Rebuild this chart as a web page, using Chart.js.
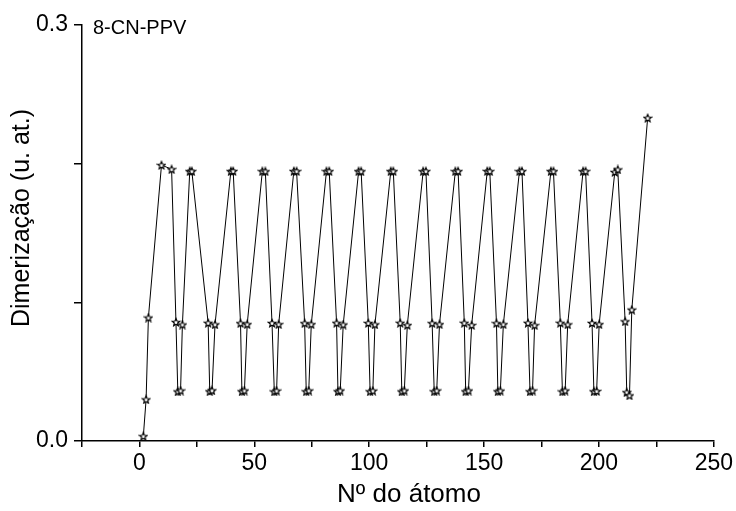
<!DOCTYPE html>
<html>
<head>
<meta charset="utf-8">
<script src="https://cdn.jsdelivr.net/npm/chart.js@4.4.0/dist/chart.umd.min.js"></script>
<style>
  html, body { margin: 0; padding: 0; background: #fff; }
</style>
</head>
<body>
<canvas id="dimerChart" width="736" height="511"></canvas>
<script>
// values
const seriesName = '8-CN-PPV';
const atomNumber = [
  1.7, 2.9, 3.9, 9.6, 14.0,
  15.9, 16.7, 17.9, 18.7, 21.9, 22.8,
  29.9, 30.6, 31.6, 32.9, 39.8, 40.8,
  44.0, 44.6, 45.7, 46.9, 53.5, 54.8,
  57.7, 58.7, 59.7, 60.6, 67.2, 68.4,
  71.9, 72.6, 73.7, 74.8, 81.4, 82.6,
  85.8, 86.4, 87.4, 88.7, 95.4, 96.5,
  99.6, 100.4, 101.6, 102.5, 109.4, 110.5,
  113.5, 114.2, 115.3, 116.6, 123.5, 124.7,
  127.4, 128.3, 129.4, 130.6, 137.5, 138.7,
  141.4, 142.0, 143.2, 144.6, 151.4, 152.5,
  155.4, 156.0, 157.1, 158.4, 165.4, 166.5,
  169.1, 170.0, 171.1, 172.0, 179.1, 180.2,
  183.2, 184.1, 185.3, 186.4, 193.1, 194.2,
  197.0, 197.8, 199.0, 200.1, 206.9, 208.2,
  211.4, 212.1, 213.3, 214.3, 221.2
];
const dimerization = [
  0.0035, 0.030, 0.089, 0.199, 0.196,
  0.0858, 0.0357, 0.0364, 0.0840, 0.1946, 0.1946,
  0.0852, 0.0358, 0.0365, 0.0841, 0.1946, 0.1947,
  0.0850, 0.0358, 0.0364, 0.0842, 0.1946, 0.1945,
  0.0851, 0.0357, 0.0363, 0.0842, 0.1947, 0.1946,
  0.0850, 0.0358, 0.0364, 0.0842, 0.1946, 0.1946,
  0.0852, 0.0358, 0.0364, 0.0840, 0.1946, 0.1945,
  0.0851, 0.0358, 0.0363, 0.0841, 0.1946, 0.1946,
  0.0852, 0.0357, 0.0364, 0.0836, 0.1946, 0.1946,
  0.0850, 0.0358, 0.0364, 0.0842, 0.1946, 0.1946,
  0.0852, 0.0358, 0.0364, 0.0836, 0.1947, 0.1946,
  0.0850, 0.0358, 0.0363, 0.0842, 0.1946, 0.1946,
  0.0852, 0.0358, 0.0364, 0.0835, 0.1946, 0.1946,
  0.0852, 0.0357, 0.0364, 0.0841, 0.1946, 0.1946,
  0.0851, 0.0358, 0.0360, 0.0842, 0.1940, 0.1958,
  0.0863, 0.0352, 0.0329, 0.0947, 0.2330
];
const xTickLabels = [0, 50, 100, 150, 200, 250];
const yTickLabels = [0.0, 0.3];
const xTitle = 'Nº do átomo';
const yTitle = 'Dimerização (u. at.)';

const fontFamily = '"Liberation Sans", Arial, Helvetica, sans-serif';

function makeStar(size) {
  const c = document.createElement('canvas');
  c.width = size;
  c.height = size;
  const g = c.getContext('2d');
  const cx = size / 2, cy = size / 2 + 0.5;
  const R = size / 2 - 1, r = R * 0.45;
  g.beginPath();
  for (let i = 0; i < 10; i++) {
    const rad = i % 2 ? r : R;
    const a = -Math.PI / 2 + i * Math.PI / 5;
    g.lineTo(cx + rad * Math.cos(a), cy + rad * Math.sin(a));
  }
  g.closePath();
  g.fillStyle = '#fff';
  g.fill();
  g.strokeStyle = '#000';
  g.lineWidth = 1.2;
  g.stroke();
  return c;
}

// series name inside the plot and the two axis titles, placed like the original
const textLabels = {
  id: 'textLabels',
  afterDraw(chart) {
    const { ctx, chartArea } = chart;
    ctx.save();
    ctx.fillStyle = '#000';
    ctx.textBaseline = 'middle';

    ctx.font = '20px ' + fontFamily;
    ctx.textAlign = 'left';
    ctx.fillText(seriesName, chartArea.left + 11, chartArea.top + 3);

    ctx.font = '26px ' + fontFamily;
    ctx.textAlign = 'center';
    ctx.fillText(xTitle, chartArea.left + 327, 495);

    ctx.translate(22, chartArea.top + 193);
    ctx.rotate(-Math.PI / 2);
    ctx.font = '25px ' + fontFamily;
    ctx.fillText(yTitle, 0, 0);
    ctx.restore();
  }
};

const ctx = document.getElementById('dimerChart').getContext('2d');

new Chart(ctx, {
  type: 'scatter',
  data: {
    datasets: [{
      label: seriesName,
      data: atomNumber.map((x, i) => ({ x: x, y: dimerization[i] })),
      showLine: true,
      borderColor: '#000',
      borderWidth: 1,
      pointStyle: makeStar(10),
      pointRadius: 5,
      pointHoverRadius: 5
    }]
  },
  options: {
    responsive: false,
    animation: false,
    layout: { padding: { top: 25, right: 19, left: 0, bottom: 0 } },
    plugins: {
      legend: { display: false },
      tooltip: { enabled: false }
    },
    scales: {
      x: {
        type: 'linear',
        min: -25,
        max: 250,
        afterFit: (scale) => { scale.height = 70; },
        ticks: {
          stepSize: 25,
          autoSkip: false,
          maxRotation: 0,
          color: '#000',
          padding: 3,
          font: { family: fontFamily, size: 23 },
          callback: (v) => xTickLabels.includes(v) ? String(v) : ''
        },
        grid: { drawOnChartArea: false, color: '#000', tickLength: 6, lineWidth: 1.5 },
        border: { color: '#000', width: 1.5 }
      },
      y: {
        min: 0,
        max: 0.3,
        afterFit: (scale) => { scale.width = 82; },
        ticks: {
          stepSize: 0.1,
          autoSkip: false,
          color: '#000',
          padding: 6,
          font: { family: fontFamily, size: 23 },
          callback: (v) => yTickLabels.some(t => Math.abs(t - v) < 1e-9) ? v.toFixed(1) : ''
        },
        grid: { drawOnChartArea: false, color: '#000', tickLength: 8, lineWidth: 1.5 },
        border: { color: '#000', width: 1.5 }
      }
    }
  },
  plugins: [textLabels]
});
</script>
</body>
</html>
